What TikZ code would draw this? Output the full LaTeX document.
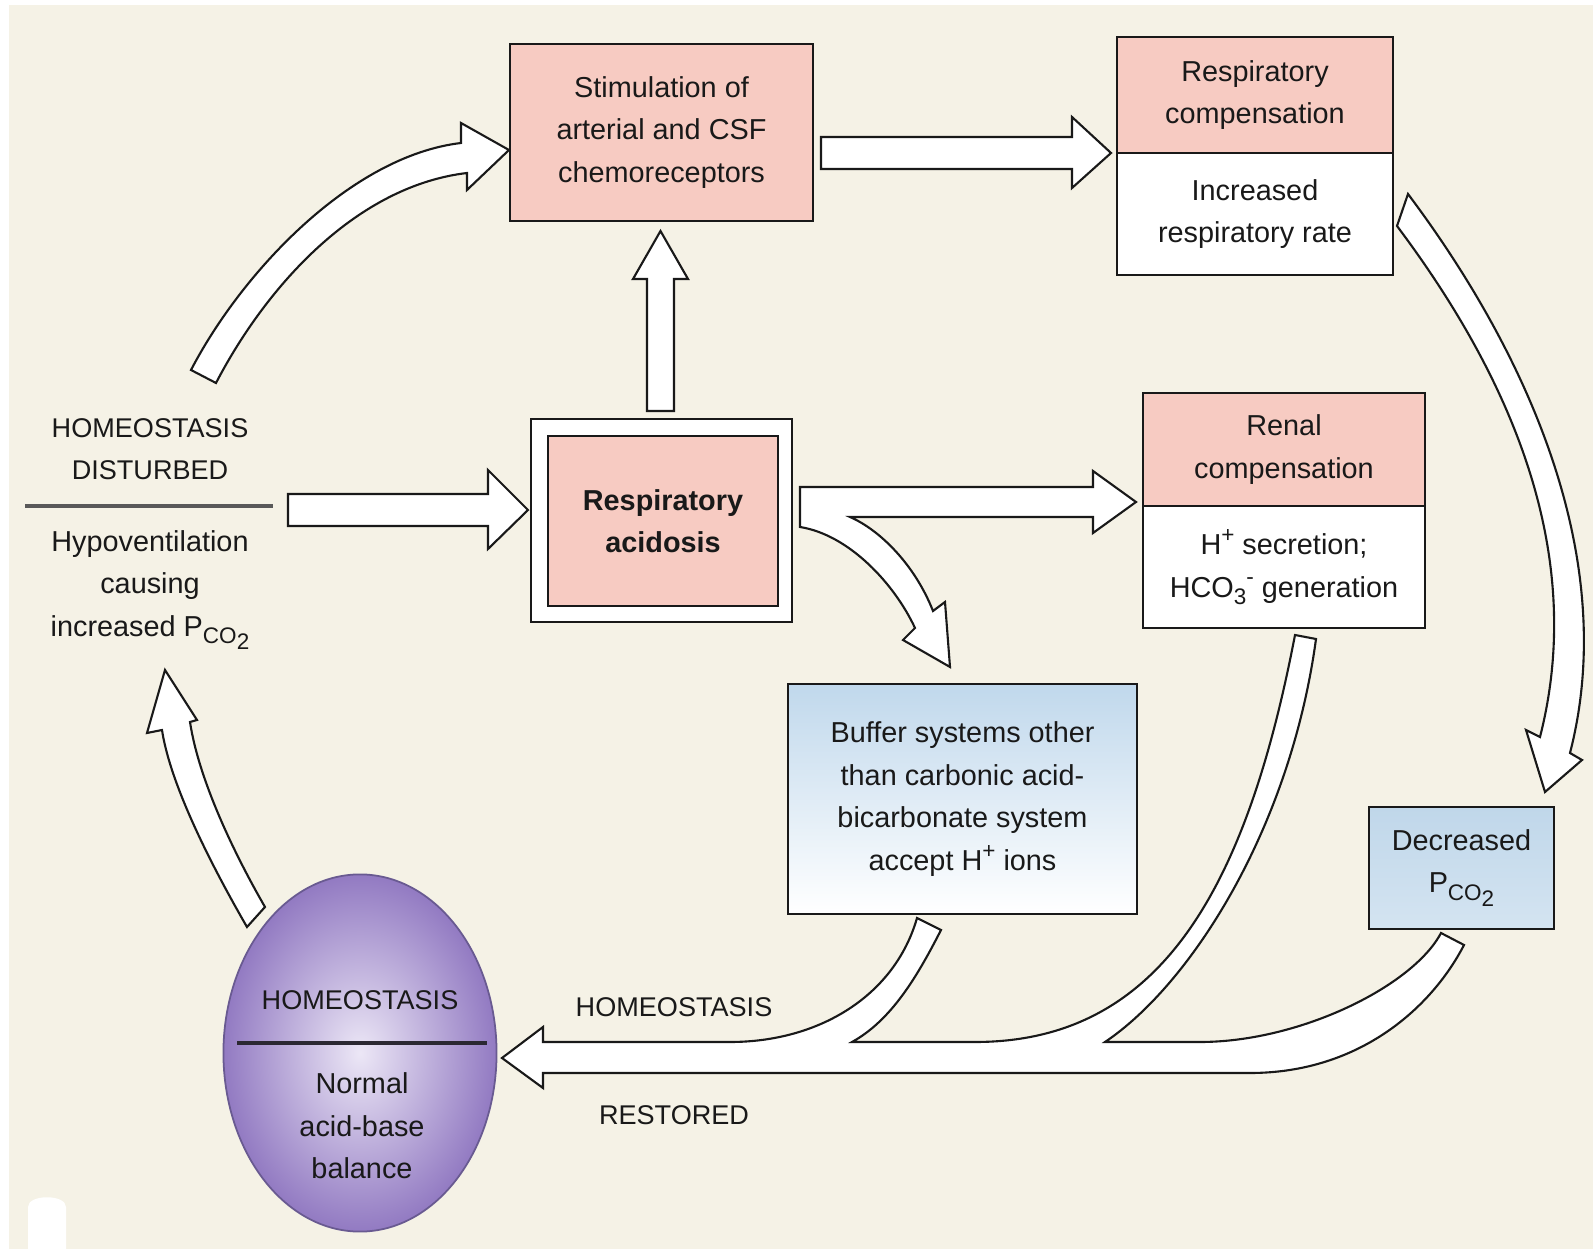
\documentclass[tikz,border=0pt]{standalone}
\usepackage{fontspec}
\setmainfont{Liberation Sans}
\usepackage{tikz}
\usetikzlibrary{positioning,shapes.geometric}
\definecolor{bgbeige}{RGB}{245,242,230}
\definecolor{pinkfill}{RGB}{247,203,194}
\definecolor{bluetop}{RGB}{192,216,236}
\definecolor{pcotop}{RGB}{192,215,234}
\definecolor{pcobot}{RGB}{212,228,241}
\definecolor{purpleedge}{RGB}{146,122,194}
\definecolor{purplemid}{RGB}{236,231,246}
\definecolor{ink}{RGB}{25,25,25}
\newcommand{\boxfont}{\fontsize{8.2}{12.1}\selectfont}
\newcommand{\capfont}{\fontsize{7.7}{12.1}\selectfont}
\newcommand{\lowtxt}[1]{\raisebox{-0.5ex}{\fontsize{6.4}{6}\selectfont #1}}
\newcommand{\hightxt}[1]{\raisebox{0.8ex}{\fontsize{6.4}{6}\selectfont #1}}
\newcommand{\pco}{P\lowtxt{CO\lowtxt{2}}}

\begin{document}
\begin{tikzpicture}[x=0.01cm,y=-0.01cm,
  box/.style={draw=ink,line width=0.7pt,outer sep=0pt,align=center,inner sep=0pt,text=ink,font=\boxfont},
  pinkbox/.style={box,fill=pinkfill},
  whitebox/.style={box,fill=white},
  plain/.style={align=center,text=ink,font=\boxfont},
  caps/.style={align=center,text=ink,font=\capfont},
  fat/.style={draw=ink,line width=0.6pt,fill=white,line join=miter}]
 \useasboundingbox (0,0) rectangle (1593,1249);
 \fill[white] (0,0) rectangle (1593,1249);
 \fill[bgbeige] (9,5) rectangle (1593,1249);
 \fill[white] (28,1249) -- (28,1207) .. controls (28,1194) and (66,1194) .. (66,1207) -- (66,1249) -- cycle;

 \node[pinkbox,minimum width=3.03cm,minimum height=1.77cm] (stim) at (661.5,132.5) {Stimulation of\\arterial and CSF\\chemoreceptors};
 \node[pinkbox,minimum width=2.76cm,minimum height=1.16cm] (respcomp) at (1255,95) {Respiratory\\compensation};
 \node[whitebox,below=0pt of respcomp,minimum width=2.76cm,minimum height=1.22cm] (resprate) {Increased\\respiratory rate};
 \node[whitebox,minimum width=2.61cm,minimum height=2.03cm] (racidframe) at (661.5,520.5) {};
 \node[pinkbox,minimum width=2.30cm,minimum height=1.70cm,font=\boxfont\bfseries] (racid) at (663,521) {Respiratory\\acidosis};
 \node[pinkbox,minimum width=2.82cm,minimum height=1.13cm] (renal) at (1284,449.5) {Renal\\compensation};
 \node[whitebox,below=0pt of renal,minimum width=2.82cm,minimum height=1.22cm] (renalsec) {H\hightxt{+} secretion;\\HCO\lowtxt{3}\hightxt{-} generation};
 \node[box,top color=bluetop,bottom color=white,minimum width=3.49cm,minimum height=2.30cm] (buffer) at (962.5,799) {Buffer systems other\\than carbonic acid-\\bicarbonate system\\accept H\hightxt{+} ions};
 \node[box,top color=pcotop,bottom color=pcobot,minimum width=1.85cm,minimum height=1.22cm] (lowpco) at (1461.5,868) {Decreased\\\pco};

 \node[caps] (hdtop) at (150,449) {HOMEOSTASIS\\DISTURBED};
 \draw[line width=0.9pt,black!65] (25,506) -- (273,506);
 \node[plain] (hdbot) at (150,590) {Hypoventilation\\causing\\increased \pco};

 \node[ellipse,draw={rgb,255:red,105;green,90;blue,145},line width=0.5pt,inner color=purplemid,outer color=purpleedge,minimum width=2.73cm,minimum height=3.57cm,inner sep=0pt] (homeo) at (360,1053) {};
 \node[caps] (homeotop) at (360,1000) {HOMEOSTASIS};
 \draw[line width=0.9pt,ink!85!purpleedge] (237,1043) -- (487,1043);
 \node[plain] (homeobot) at (362,1126) {Normal\\acid-base\\balance};
 \node[caps] (restore1) at (674,1007) {HOMEOSTASIS};
 \node[caps] (restore2) at (674,1115) {RESTORED};

 \draw[fat] (288,494) -- (488,494) -- (488,470) -- (528,510) -- (488,549) -- (488,526) -- (288,526) -- cycle;
 \draw[fat] (647,411) -- (647,279) -- (633,279) -- (660.5,231) -- (688,279) -- (674,279) -- (674,411) -- cycle;
 \draw[fat] (821,137) -- (1072,137) -- (1072,117) -- (1111,153) -- (1072,188) -- (1072,169) -- (821,169) -- cycle;
 \draw[fat] (800,487) -- (1093,487) -- (1093,471) -- (1136,502) -- (1093,533) -- (1093,517) -- (850,517)
   .. controls (880,530) and (915,565) .. (933,611) -- (945,602) -- (950,667) -- (903,640) -- (915,628)
   .. controls (895,585) and (850,535) .. (800,527) -- cycle;
 \draw[fat] (191,370) .. controls (242,272) and (351,156) .. (461,143) -- (461,123) -- (509,150) -- (467,190) -- (467,173)
   .. controls (357,186) and (267,285) .. (216,383) -- cycle;
 \draw[fat] (1408,194) .. controls (1528,354) and (1620,559) .. (1570,753) -- (1582,760) -- (1545,792) -- (1526,730) -- (1540,737)
   .. controls (1587,553) and (1511,378) .. (1397,226) -- cycle;
 \draw[fat] (247,927) .. controls (217,875) and (171,789) .. (162,730) -- (147,733) -- (165,670) -- (197,720) -- (190,722)
   .. controls (199,781) and (235,855) .. (265,907) -- cycle;
 \draw[fat] (502,1058) -- (543,1027) -- (543,1042) -- (730,1042) .. controls (820,1042) and (895,995) .. (917,918)
   -- (941,930) .. controls (918,975) and (892,1020) .. (852,1042)
   -- (975,1042) .. controls (1160,1042) and (1246,890) .. (1295,635)
   -- (1316,639) .. controls (1290,830) and (1190,985) .. (1105,1042)
   -- (1200,1042) .. controls (1300,1042) and (1413,986) .. (1441,933)
   -- (1464,945) .. controls (1432,1007) and (1360,1073) .. (1250,1073)
   -- (543,1073) -- (543,1088) -- cycle;
\end{tikzpicture}
\end{document}
